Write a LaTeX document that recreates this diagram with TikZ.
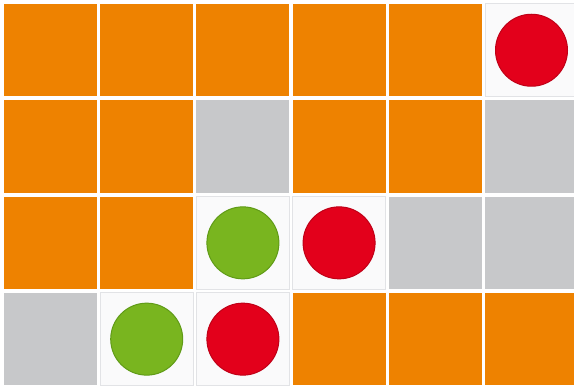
\documentclass[tikz,border=0pt]{standalone}
\definecolor{tileorange}{HTML}{EE8200}
\definecolor{tilegray}{HTML}{C7C8CA}
\definecolor{tilewhite}{HTML}{FAFAFB}
\definecolor{tileedge}{HTML}{E2E3E6}
\definecolor{discred}{HTML}{E3001B}
\definecolor{discredd}{HTML}{A80015}
\definecolor{discgreen}{HTML}{79B51F}
\definecolor{discgreend}{HTML}{4F8A12}
\begin{document}
\begin{tikzpicture}[x=1pt,y=-1pt,
  tile/.style={minimum width=93pt,minimum height=92.5pt,inner sep=0pt,outer sep=0pt,anchor=north west},
  otile/.style={tile,fill=tileorange},
  gtile/.style={tile,fill=tilegray},
  wtile/.style={tile,fill=tilewhite,draw=tileedge,line width=1pt},
  reddisc/.style={circle,minimum size=72pt,inner sep=0pt,fill=discred,draw=discredd!60!discred,line width=1pt},
  greendisc/.style={circle,minimum size=72pt,inner sep=0pt,fill=discgreen,draw=discgreend!60!discgreen,line width=1pt}]
\fill[white] (0,0) rectangle (574,387);
\useasboundingbox (0,0) rectangle (574,387);
% tiles: O orange, G gray, W white
\foreach \r/\row in {0/{O,O,O,O,O,W},1/{O,O,G,O,O,G},2/{O,O,W,W,G,G},3/{G,W,W,O,O,O}}{
  \foreach \t [count=\c from 0] in \row {
    \pgfmathsetmacro{\xx}{4+\c*96.2}
    \pgfmathsetmacro{\yy}{4+\r*96.3}
    \if O\t \node[otile] (t\r\c) at (\xx,\yy) {};\fi
    \if G\t \node[gtile] (t\r\c) at (\xx,\yy) {};\fi
    \if W\t \node[wtile] (t\r\c) at (\xx,\yy) {};\fi
  }
}
\node[reddisc] (d05) at (t05.center) {};
\node[greendisc] (d22) at (t22.center) {};
\node[reddisc] (d23) at (t23.center) {};
\node[greendisc] (d31) at (t31.center) {};
\node[reddisc] (d32) at (t32.center) {};
\end{tikzpicture}
\end{document}
